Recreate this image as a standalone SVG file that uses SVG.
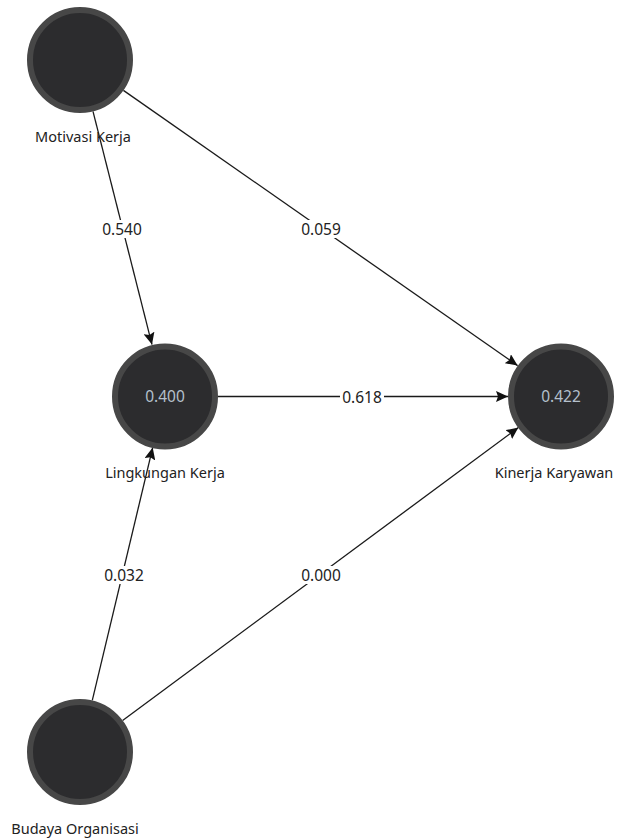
<svg xmlns="http://www.w3.org/2000/svg" width="625" height="838" viewBox="0 0 625 838">
<style>
.node circle{fill:#2c2c2e;stroke:#474747;stroke-width:6}
.lbl{font-family:"Noto Sans","Open Sans","DejaVu Sans",sans-serif;font-size:15.5px;fill:#222;text-anchor:middle}
.name{font-family:"Noto Sans","Open Sans","DejaVu Sans",sans-serif;font-size:14.5px;fill:#222;text-anchor:middle}
.val{font-family:"Noto Sans","Open Sans","DejaVu Sans",sans-serif;font-size:15.5px;fill:#b4c0cc;text-anchor:middle}
.edge{stroke:#1a1a1a;stroke-width:1.3;fill:none;marker-end:url(#arr)}
.coef rect{fill:#fff}
</style>
<defs>
<marker id="arr" markerUnits="userSpaceOnUse" markerWidth="13" markerHeight="11" refX="12" refY="5.5" orient="auto">
<path d="M0,0 L12,5.5 L0,11 L2,5.5 z" fill="#111"/>
</marker>
</defs>
<rect width="625" height="838" fill="#fff"/>
<g id="connectors">
<line class="edge" x1="93" y1="111.4" x2="152" y2="344.6"/>
<line class="edge" x1="123.4" y1="90.4" x2="517.6" y2="365.6"/>
<line class="edge" x1="218" y1="396.5" x2="508" y2="396.5"/>
<line class="edge" x1="92.3" y1="700.4" x2="152.7" y2="447.6"/>
<line class="edge" x1="122.6" y1="720.5" x2="518.4" y2="427.5"/>
<g class="coef">
<rect x="100" y="220" width="44" height="18"/><text class="lbl" x="122" y="235">0.540</text>
<rect x="299" y="220" width="44" height="18"/><text class="lbl" x="321" y="235">0.059</text>
<rect x="340" y="388" width="44" height="18"/><text class="lbl" x="362" y="403">0.618</text>
<rect x="102" y="566" width="44" height="18"/><text class="lbl" x="124" y="581">0.032</text>
<rect x="299" y="566" width="44" height="18"/><text class="lbl" x="321" y="581">0.000</text>
</g>
</g>
<g id="motivasi" class="node">
<circle cx="80" cy="60" r="50"/>
<text class="name" x="83" y="142">Motivasi Kerja</text>
</g>
<g id="lingkungan" class="node">
<circle cx="165" cy="396.5" r="50"/>
<text class="val" x="165" y="402">0.400</text>
<text class="name" x="165" y="478">Lingkungan Kerja</text>
</g>
<g id="kinerja" class="node">
<circle cx="561" cy="396.5" r="50"/>
<text class="val" x="561" y="402">0.422</text>
<text class="name" x="554" y="478">Kinerja Karyawan</text>
</g>
<g id="budaya" class="node">
<circle cx="80" cy="752" r="50"/>
<text class="name" x="75" y="834">Budaya Organisasi</text>
</g>
</svg>
